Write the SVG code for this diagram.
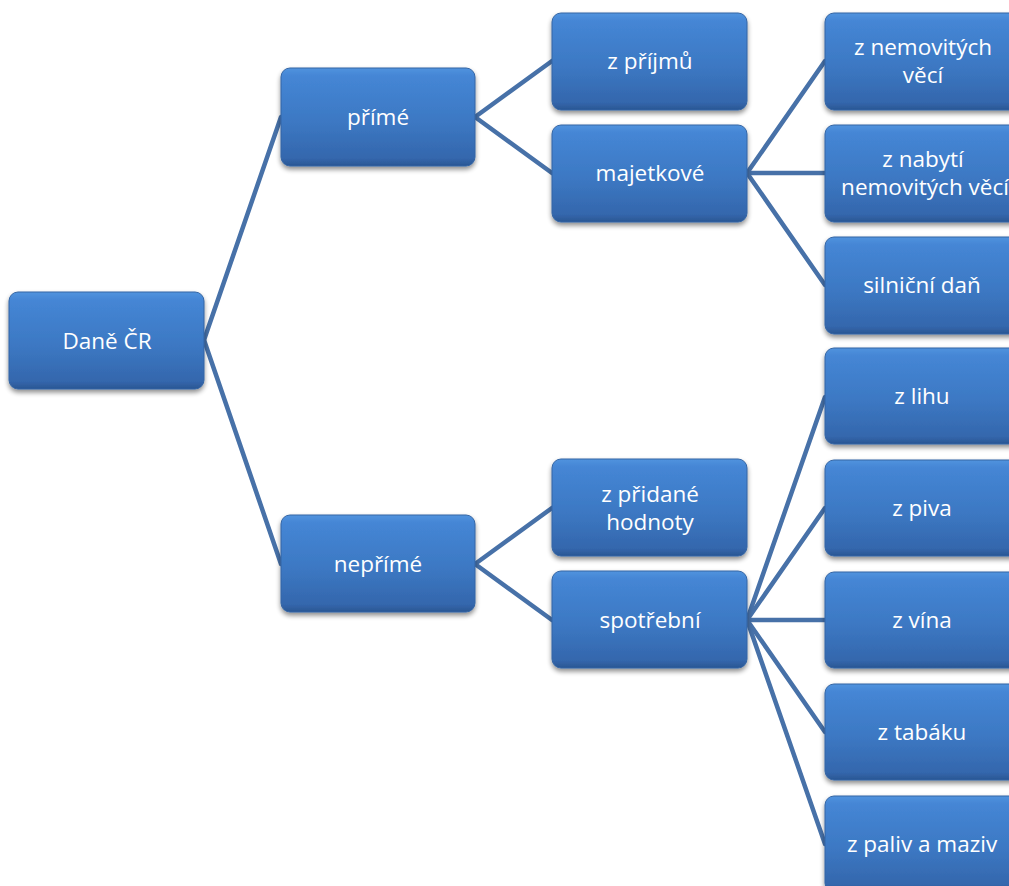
<svg xmlns="http://www.w3.org/2000/svg" width="1009" height="886" viewBox="0 0 1009 886">
<defs>
<linearGradient id="g" x1="0" y1="0" x2="0" y2="1">
<stop offset="0" stop-color="#5193de"/>
<stop offset="0.08" stop-color="#4586d5"/>
<stop offset="0.55" stop-color="#3c78c3"/>
<stop offset="0.92" stop-color="#3467ad"/>
<stop offset="1" stop-color="#2a5693"/>
</linearGradient>
<filter id="sh" x="-10%" y="-10%" width="120%" height="130%">
<feGaussianBlur in="SourceAlpha" stdDeviation="2.5"/>
<feOffset dx="0" dy="3" result="b"/>
<feComponentTransfer><feFuncA type="linear" slope="0.45"/></feComponentTransfer>
<feMerge><feMergeNode/><feMergeNode in="SourceGraphic"/></feMerge>
</filter>
</defs>
<style>
.box{fill:url(#g);stroke:#3465a4;stroke-width:1;filter:url(#sh)}
.t{font-family:"Open Sans","Noto Sans",sans-serif;font-size:22.5px;fill:#ffffff;text-anchor:middle}
.c{stroke:#4771a8;stroke-width:4.5;fill:none;stroke-linecap:round}
</style>
<rect width="1009" height="886" fill="#ffffff"/>
<g id="connectors">
<line class="c" x1="204" y1="340" x2="281" y2="117"/>
<line class="c" x1="204" y1="340" x2="281" y2="564"/>
<line class="c" x1="475" y1="117" x2="552" y2="61"/>
<line class="c" x1="475" y1="117" x2="552" y2="173"/>
<line class="c" x1="475" y1="564" x2="552" y2="508"/>
<line class="c" x1="475" y1="564" x2="552" y2="620"/>
<line class="c" x1="747" y1="173" x2="825" y2="61"/>
<line class="c" x1="747" y1="173" x2="825" y2="173"/>
<line class="c" x1="747" y1="173" x2="825" y2="285"/>
<line class="c" x1="747" y1="620" x2="825" y2="397"/>
<line class="c" x1="747" y1="620" x2="825" y2="508"/>
<line class="c" x1="747" y1="620" x2="825" y2="620"/>
<line class="c" x1="747" y1="620" x2="825" y2="732"/>
<line class="c" x1="747" y1="620" x2="825" y2="844"/>
</g>
<g id="n-dane"><rect class="box" x="9" y="292" width="195" height="97" rx="9"/><text class="t" x="107" y="349">Daně ČR</text></g>
<g id="n-prime"><rect class="box" x="281" y="68" width="194" height="98" rx="9"/><text class="t" x="378" y="125">přímé</text></g>
<g id="n-neprime"><rect class="box" x="281" y="515" width="194" height="97" rx="9"/><text class="t" x="378" y="572">nepřímé</text></g>
<g id="n-prijmu"><rect class="box" x="552" y="13" width="195" height="97" rx="9"/><text class="t" x="650" y="69">z příjmů</text></g>
<g id="n-majetkove"><rect class="box" x="552" y="125" width="195" height="97" rx="9"/><text class="t" x="650" y="181">majetkové</text></g>
<g id="n-pridane"><rect class="box" x="552" y="459" width="195" height="97" rx="9"/><text class="t" x="650" y="502">z přidané</text><text class="t" x="650" y="530">hodnoty</text></g>
<g id="n-spotrebni"><rect class="box" x="552" y="571" width="195" height="97" rx="9"/><text class="t" x="650" y="628">spotřební</text></g>
<g id="n-nemovitych"><rect class="box" x="825" y="13" width="200" height="97" rx="9"/><text class="t" x="923" y="55">z nemovitých</text><text class="t" x="923" y="83">věcí</text></g>
<g id="n-nabyti"><rect class="box" x="825" y="125" width="200" height="97" rx="9"/><text class="t" x="923" y="167">z nabytí</text><text class="t" x="925" y="195">nemovitých věcí</text></g>
<g id="n-silnicni"><rect class="box" x="825" y="237" width="200" height="97" rx="9"/><text class="t" x="922" y="293">silniční daň</text></g>
<g id="n-lihu"><rect class="box" x="825" y="348" width="200" height="96" rx="9"/><text class="t" x="922" y="404">z lihu</text></g>
<g id="n-piva"><rect class="box" x="825" y="460" width="200" height="96" rx="9"/><text class="t" x="922" y="516">z piva</text></g>
<g id="n-vina"><rect class="box" x="825" y="572" width="200" height="96" rx="9"/><text class="t" x="922" y="628">z vína</text></g>
<g id="n-tabaku"><rect class="box" x="825" y="684" width="200" height="96" rx="9"/><text class="t" x="922" y="740">z tabáku</text></g>
<g id="n-paliv"><rect class="box" x="825" y="796" width="200" height="96" rx="9"/><text class="t" x="922" y="852">z paliv a maziv</text></g>
</svg>
